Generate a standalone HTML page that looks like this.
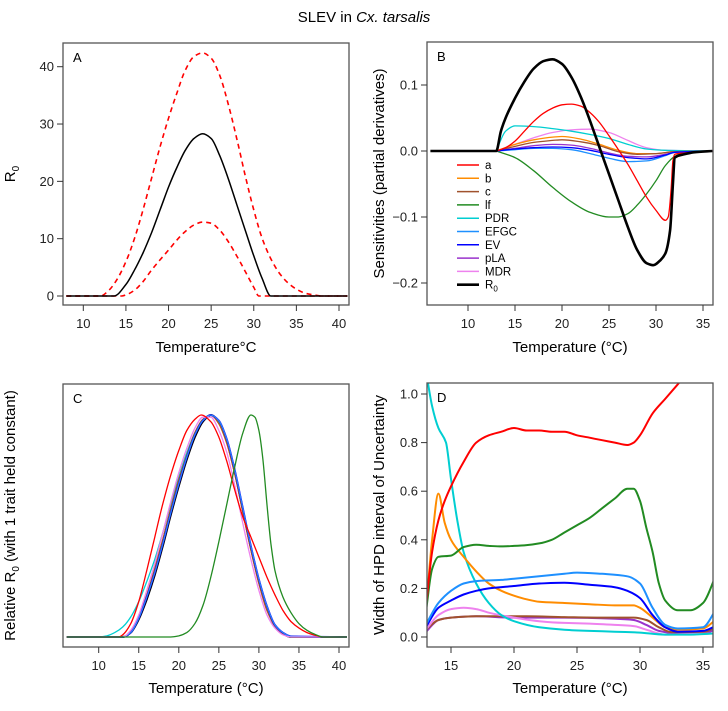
<!DOCTYPE html>
<html><head><meta charset="utf-8">
<style>
body{margin:0;background:#fff;}
svg{display:block;font-family:"Liberation Sans",Arial,sans-serif;}
</style></head>
<body>
<svg id="fig" width="728" height="711" viewBox="0 0 728 711">
<text x="364" y="22" text-anchor="middle" font-size="15">SLEV in <tspan font-style="italic">Cx. tarsalis</tspan></text>
</svg>
<script>
// ---------- Panel A data ----------
const aMeanT=[8,13.6,15,16,17,18,19,20,21,22,23,24,25,26,27,28,29,30,31,32,41];
const aMean=[0,0,2,4.5,7.5,11,15,19,22.5,25.5,27.5,28.3,27.5,24.5,20.5,16,11.5,7,3,0,0];
const aUpT=[8,12,13,14,15,16,17,18,19,20,21,22,23,24,25,26,27,28,29,30,31,32,33,34,35,36,37,38,41];
const aUp=[0,0,1,3,6,10,15,20.5,26,31,35.5,39.5,41.8,42.4,41.5,38.5,33.5,27.5,21,15,10,6.5,4,2.3,1.2,0.5,0.2,0,0];
const aLoT=[8,14.5,15,16,17,18,19,20,21,22,23,24,25,26,27,28,29,30,30.6,41];
const aLo=[0,0,0.2,1,2.5,4.5,6.3,8,9.8,11.3,12.4,12.9,12.7,11.5,9.5,7,4.3,1.5,0,0];
const aXTicks=[10,15,20,25,30,35,40];
const aYTicks=[0,10,20,30,40];
// ---------- Panel B data ----------
const bR0T=[6,13,13.5,14,15,16,17,18,19,20,21,22,23,24,25,26,27,28,29,29.7,30.5,31,31.5,31.8,32,33,34,36];
const bR0=[0,0,0.03,0.05,0.08,0.105,0.125,0.136,0.139,0.132,0.112,0.082,0.045,0.005,-0.035,-0.075,-0.115,-0.15,-0.17,-0.173,-0.165,-0.155,-0.12,-0.05,-0.01,-0.005,-0.002,0];
const bAT=[13,14,15,16,17,18,19,20,21,22,23,24,25,26,27,28,29,30,31,31.3,31.6,31.8,32,33,36];
const bA=[0,0.005,0.015,0.03,0.045,0.057,0.065,0.07,0.071,0.068,0.058,0.043,0.023,0.002,-0.02,-0.045,-0.07,-0.09,-0.105,-0.1,-0.06,-0.015,-0.005,-0.003,0];
const bLfT=[13,15,17,19,21,23,25,26,27,28,29,30,31,32,33,36];
const bLf=[0,-0.01,-0.03,-0.055,-0.077,-0.093,-0.1,-0.1,-0.095,-0.082,-0.065,-0.045,-0.022,-0.008,-0.003,0];
const bPdrT=[13,14,15,17,19,21,23,25,27,29,31,36];
const bPdr=[0,0.03,0.038,0.037,0.034,0.03,0.025,0.019,0.01,0.003,0.001,0];
const bMdrT=[13,15,17,19,21,23,25,27,29,31,36];
const bMdr=[0,0.01,0.02,0.028,0.032,0.033,0.028,0.016,0.005,0.001,0];
const bBT=[13,15,17,19,20,22,24,26,28,30,32,36];
const bB=[0,0.01,0.017,0.021,0.022,0.018,0.01,0.001,-0.004,-0.004,-0.001,0];
const bCT=[13,15,17,19,20,22,24,26,28,30,32,36];
const bC=[0,0.007,0.013,0.016,0.017,0.014,0.008,-0.001,-0.005,-0.004,-0.001,0];
const bSmallT=[13,15,17,19,21,23,25,27,29,31,32,36];
const bPla=[0,0.004,0.008,0.01,0.009,0.004,-0.003,-0.008,-0.009,-0.005,-0.002,0];
const bEv=[0,0.003,0.005,0.006,0.005,0.001,-0.005,-0.01,-0.012,-0.006,-0.002,0];
const bEfgc=[0,0.002,0.004,0.004,0.002,-0.004,-0.011,-0.016,-0.015,-0.007,-0.002,0];
const bXTicks=[10,15,20,25,30,35];
const bYTicks=[-0.2,-0.1,0,0.1];
const bYLabels=["\u22120.2","\u22120.1","0.0","0.1"];
const legendNames=["a","b","c","lf","PDR","EFGC","EV","pLA","MDR","R0"];
// ---------- Panel C data ----------
const cBaseT=[6,13,14,15,16,17,18,19,20,21,22,23,24,25,26,27,28,29,30,31,32,33,34,41];
const cR0=[0,0,0.02,0.08,0.17,0.28,0.41,0.55,0.68,0.8,0.9,0.97,1,0.97,0.88,0.74,0.57,0.4,0.25,0.13,0.05,0.015,0,0];
const cBlue=[0,0,0.02,0.085,0.18,0.29,0.42,0.56,0.69,0.81,0.91,0.975,1,0.975,0.89,0.75,0.58,0.41,0.26,0.14,0.055,0.02,0.003,0];
const cOrange=[0,0,0.025,0.095,0.19,0.31,0.44,0.58,0.71,0.82,0.92,0.98,1,0.96,0.87,0.73,0.56,0.39,0.24,0.12,0.05,0.015,0,0];
const cPink=[0,0,0.03,0.1,0.21,0.33,0.47,0.61,0.74,0.85,0.94,0.99,0.99,0.93,0.83,0.68,0.51,0.35,0.21,0.1,0.04,0.01,0,0];
const cCyanT=[6,10,11,12,13,14,15,16,17,18,19,20,21,22,23,24,25,26,27,28,29,30,31,32,33,34,41];
const cCyan=[0,0,0.005,0.02,0.045,0.09,0.16,0.25,0.35,0.47,0.6,0.72,0.83,0.92,0.98,1,0.97,0.88,0.74,0.57,0.4,0.25,0.13,0.05,0.015,0,0];
const cRedT=[6,12.5,13,14,15,16,17,18,19,20,21,22,22.8,24,25,26,27,28,29,30,31,32,33,34,35,36,37,38,41];
const cRed=[0,0,0.01,0.06,0.16,0.3,0.45,0.6,0.73,0.84,0.93,0.98,1,0.97,0.9,0.79,0.66,0.54,0.45,0.36,0.27,0.19,0.12,0.07,0.04,0.02,0.008,0,0];
const cGreenT=[6,19,20,21,22,23,24,25,26,27,28,29,29.5,30,30.5,31,31.5,32,33,34,35,36,37,38,41];
const cGreen=[0,0,0.005,0.02,0.06,0.14,0.27,0.43,0.6,0.77,0.92,1,0.99,0.93,0.8,0.6,0.42,0.3,0.18,0.11,0.06,0.03,0.012,0,0];
const cXTicks=[10,15,20,25,30,35,40];
// ---------- Panel D data ----------
const dRedT=[13,13.5,14,14.5,15,16,17,18,19,20,21,22,23,24,25,26,27,28,29,29.5,30,31,32,33,33.5];
const dRed=[0.12,0.35,0.48,0.56,0.62,0.72,0.8,0.83,0.845,0.86,0.85,0.85,0.845,0.845,0.83,0.82,0.81,0.8,0.79,0.8,0.83,0.92,0.98,1.04,1.07];
const dCyanT=[13,13.5,14,14.6,15,15.5,16,17,18,19,20,22,24,26,28,30,32,34,36];
const dCyan=[1.1,0.95,0.86,0.8,0.65,0.48,0.35,0.22,0.14,0.09,0.065,0.04,0.03,0.025,0.022,0.018,0.01,0.01,0.015];
const dOrangeT=[13,13.5,14,14.5,15,16,17,18,19,20,21,22,24,26,28,29.5,30,31,32,33,35,36];
const dOrange=[0.1,0.4,0.59,0.47,0.4,0.33,0.27,0.22,0.19,0.17,0.155,0.145,0.14,0.135,0.13,0.13,0.12,0.08,0.04,0.03,0.035,0.07];
const dGreenT=[13,13.5,14,15,16,17,18,19,20,21,22,23,24,25,26,27,28,29,29.5,30,30.5,31,31.5,32,33,34,35,36];
const dGreen=[0.1,0.28,0.33,0.335,0.37,0.38,0.375,0.373,0.375,0.378,0.385,0.4,0.43,0.46,0.49,0.53,0.57,0.61,0.61,0.56,0.45,0.35,0.22,0.15,0.11,0.11,0.14,0.25];
const dEfgcT=[13,14,15,16,17,19,20,22,24,25,27,29,30,31,32,33,35,36];
const dEfgc=[0.05,0.14,0.19,0.22,0.23,0.235,0.24,0.25,0.26,0.265,0.26,0.25,0.22,0.12,0.05,0.035,0.04,0.11];
const dEvT=[13,14,15,16,17,18,20,22,24,26,28,29,30,31,32,33,35,36];
const dEv=[0.04,0.12,0.15,0.175,0.19,0.2,0.21,0.22,0.223,0.215,0.205,0.19,0.16,0.09,0.04,0.022,0.025,0.045];
const dPinkT=[13,14,15,16,17,18,20,22,24,26,28,29.5,30.5,32,36];
const dPink=[0.03,0.09,0.115,0.12,0.115,0.1,0.08,0.065,0.058,0.055,0.05,0.045,0.03,0.01,0.015];
const dBrownT=[13,14,15,17,19,21,24,27,29.5,30.5,31.5,32.5,35,36];
const dBrown=[0.03,0.07,0.08,0.085,0.085,0.085,0.082,0.08,0.08,0.07,0.04,0.02,0.02,0.04];
const dPurpleT=[13,14,15,17,20,24,28,29.5,30.5,31.5,33,35,36];
const dPurple=[0.02,0.07,0.08,0.085,0.08,0.08,0.075,0.07,0.05,0.025,0.015,0.015,0.03];
const dXTicks=[15,20,25,30,35];
const dYTicks=[0,0.2,0.4,0.6,0.8,1.0];
const dYLabels=["0.0","0.2","0.4","0.6","0.8","1.0"];

const NS="http://www.w3.org/2000/svg";
const svg=document.getElementById('fig');
function mk(tag,attrs,parent){const e=document.createElementNS(NS,tag);for(const k in attrs)e.setAttribute(k,attrs[k]);(parent||svg).appendChild(e);return e;}
function scale(d0,d1,r0,r1){return v=>r0+(v-d0)/(d1-d0)*(r1-r0);}
// monotone cubic (Fritsch-Carlson) path - no overshoot
function smoothPath(xs,ys){
  const n=xs.length;
  if(n<3){return "M"+xs.map((x,i)=>x.toFixed(1)+","+ys[i].toFixed(1)).join(" L");}
  const dx=[],s=[];
  for(let i=0;i<n-1;i++){dx.push(xs[i+1]-xs[i]);s.push((ys[i+1]-ys[i])/dx[i]);}
  const m=new Array(n);
  m[0]=s[0];m[n-1]=s[n-2];
  for(let i=1;i<n-1;i++){
    if(s[i-1]*s[i]<=0)m[i]=0;
    else{const w1=2*dx[i]+dx[i-1],w2=dx[i]+2*dx[i-1];m[i]=(w1+w2)/(w1/s[i-1]+w2/s[i]);}
  }
  let d="M"+xs[0].toFixed(1)+","+ys[0].toFixed(1);
  for(let i=0;i<n-1;i++){
    const h=dx[i]/3;
    d+=" C"+(xs[i]+h).toFixed(1)+","+(ys[i]+m[i]*h).toFixed(1)+" "+(xs[i+1]-h).toFixed(1)+","+(ys[i+1]-m[i+1]*h).toFixed(1)+" "+xs[i+1].toFixed(1)+","+ys[i+1].toFixed(1);
  }
  return d;
}
function makePanel(id,box,xs,ys){
  const g=mk('g',{});
  
  
  const cp=mk('clipPath',{id:'clip'+id},g);
  mk('rect',{x:box.l,y:box.t,width:box.r-box.l,height:box.b-box.t},cp);
  const plot=mk('g',{'clip-path':'url(#clip'+id+')'},g);
  return {g,plot,xs,ys,box};
}
function drawLine(P,T,V,color,w,name,dash){
  const p=mk('path',{d:smoothPath(T.map(P.xs),V.map(P.ys)),fill:'none',stroke:color,'stroke-width':w,'stroke-linejoin':'round'},P.plot);
  if(dash)p.setAttribute('stroke-dasharray',dash);
  
  
}
function frame(P,id,xt,yt,ylab,xtitle,ytitle,xtY,ytX){
  const b=P.box;
  const r=mk('rect',{x:b.l,y:b.t,width:b.r-b.l,height:b.b-b.t,fill:'none',stroke:'#555','stroke-width':1.3},P.g);
  
  
  const xa=mk('g',{},P.g);
  
  
  xt.forEach(v=>{const x=P.xs(v);mk('line',{x1:x,x2:x,y1:b.b,y2:b.b+6,stroke:'#333'},xa);
    const t=mk('text',{x:x,y:b.b+23,'text-anchor':'middle','font-size':13,fill:'#222'},xa);t.textContent=v;});
  if(yt){const ya=mk('g',{},P.g);
    
    
    yt.forEach((v,i)=>{const y=P.ys(v);mk('line',{x1:b.l-6,x2:b.l,y1:y,y2:y,stroke:'#333'},ya);
      const t=mk('text',{x:b.l-9,y:y+4.5,'text-anchor':'end','font-size':13,fill:'#222'},ya);t.textContent=ylab?ylab[i]:v;});}
  const xtt=mk('text',{x:(b.l+b.r)/2,y:xtY,'text-anchor':'middle','font-size':15},P.g);
  xtt.textContent=xtitle;
  
  
  const ytt=mk('text',{x:0,y:0,'text-anchor':'middle','font-size':15,transform:'translate('+ytX+','+((b.t+b.b)/2)+') rotate(-90)'},P.g);
  ytt.innerHTML=ytitle;
  
  
  const pl=mk('text',{x:b.l+10,y:b.t+19,'font-size':13},P.g);
  pl.textContent=id;
  
  
}
const RED='#FF0000',ORANGE='#FF8C00',BROWN='#A0522D',GREEN='#228B22',CYAN='#00CED1',DBLUE='#1E90FF',BLUE='#0000FF',PURPLE='#9932CC',VIOLET='#EE82EE';

// Panel A
const bxA={l:63,r:349,t:43,b:305};
const A=makePanel('A',bxA,scale(10,40,83.3,339),scale(0,40,296,66.7));
drawLine(A,aUpT,aUp,RED,1.6,'upper-ci-line','5,4');
drawLine(A,aLoT,aLo,RED,1.6,'lower-ci-line','5,4');
drawLine(A,aMeanT,aMean,'#000',1.5,'r0-mean-line');
frame(A,'A',aXTicks,aYTicks,null,'Temperature\u00B0C','R<tspan font-size="10" dy="4">0</tspan>',352,15);

// Panel B
const bxB={l:427,r:713,t:42,b:305};
const B=makePanel('B',bxB,scale(10,35,468,703),scale(0,0.1,151,85));
drawLine(B,bLfT,bLf,GREEN,1.3,'lf-sensitivity-line');
drawLine(B,bMdrT,bMdr,VIOLET,1.3,'mdr-sensitivity-line');
drawLine(B,bPdrT,bPdr,CYAN,1.3,'pdr-sensitivity-line');
drawLine(B,bBT,bB,ORANGE,1.3,'b-sensitivity-line');
drawLine(B,bCT,bC,BROWN,1.3,'c-sensitivity-line');
drawLine(B,bSmallT,bPla,PURPLE,1.3,'pla-sensitivity-line');
drawLine(B,bSmallT,bEfgc,DBLUE,1.3,'efgc-sensitivity-line');
drawLine(B,bSmallT,bEv,BLUE,1.3,'ev-sensitivity-line');
drawLine(B,bAT,bA,RED,1.3,'a-sensitivity-line');
drawLine(B,bR0T,bR0,'#000',2.6,'r0-sensitivity-line');
frame(B,'B',bXTicks,bYTicks,bYLabels,'Temperature (\u00B0C)','Sensitivities (partial derivatives)',352,384);
const legCols=[RED,ORANGE,BROWN,GREEN,CYAN,DBLUE,BLUE,PURPLE,VIOLET,'#000'];
const leg=mk('g',{});


legendNames.forEach((n,i)=>{
  const y=165+i*13.3;
  const e=mk('g',{},leg);
  
  
  mk('line',{x1:457,x2:479,y1:y,y2:y,stroke:legCols[i],'stroke-width':i==9?2.6:1.5},e);
  const t=mk('text',{x:485,y:y+4,'font-size':11.5},e);
  if(n==='R0')t.innerHTML='R<tspan font-size="8" dy="3">0</tspan>';else t.textContent=n;
});

// Panel C
const bxC={l:63,r:349,t:384,b:647};
const C=makePanel('C',bxC,scale(10,40,98.7,339),scale(0,1,637,415));
drawLine(C,cBaseT,cR0,'#000',2,'r0-relative-line');
drawLine(C,cCyanT,cCyan,CYAN,1.3,'pdr-relative-line');
drawLine(C,cBaseT,cOrange,ORANGE,1.3,'b-relative-line');
drawLine(C,cBaseT,cOrange,BROWN,1,'c-relative-line');
drawLine(C,cBaseT,cBlue,BLUE,1.8,'ev-relative-line');
drawLine(C,cBaseT,cBlue,PURPLE,1,'pla-relative-line');
drawLine(C,cBaseT,cBlue,DBLUE,1,'efgc-relative-line');
drawLine(C,cBaseT,cPink,VIOLET,1.3,'mdr-relative-line');
drawLine(C,cRedT,cRed,RED,1.3,'a-relative-line');
drawLine(C,cGreenT,cGreen,GREEN,1.3,'lf-relative-line');
frame(C,'C',cXTicks,null,null,'Temperature (\u00B0C)','Relative R<tspan font-size="10" dy="4">0</tspan><tspan dy="-4"> (with 1 trait held constant)</tspan>',693,15);

// Panel D
const bxD={l:427,r:713,t:383,b:647};
const D=makePanel('D',bxD,scale(15,35,451,703),scale(0,1,637,394));
drawLine(D,dPurpleT,dPurple,PURPLE,2,'pla-hpd-line');
drawLine(D,dBrownT,dBrown,BROWN,2,'c-hpd-line');
drawLine(D,dPinkT,dPink,VIOLET,2,'mdr-hpd-line');
drawLine(D,dCyanT,dCyan,CYAN,2,'pdr-hpd-line');
drawLine(D,dOrangeT,dOrange,ORANGE,2,'b-hpd-line');
drawLine(D,dEvT,dEv,BLUE,2,'ev-hpd-line');
drawLine(D,dEfgcT,dEfgc,DBLUE,2,'efgc-hpd-line');
drawLine(D,dGreenT,dGreen,GREEN,2,'lf-hpd-line');
drawLine(D,dRedT,dRed,RED,2,'a-hpd-line');
frame(D,'D',dXTicks,dYTicks,dYLabels,'Temperature (\u00B0C)','Width of HPD interval of Uncertainty',693,384);
</script>
</body></html>
